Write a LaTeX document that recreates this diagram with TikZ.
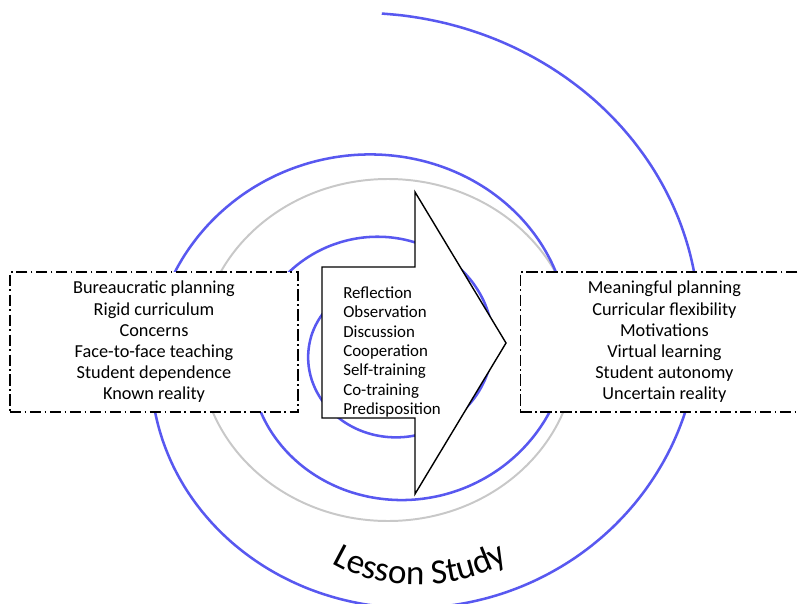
\documentclass[tikz,border=0pt]{standalone}
\usepackage{fontspec}
\setmainfont{Carlito}
\usepackage{tikz}
\usetikzlibrary{positioning}
\usetikzlibrary{decorations.text}
\definecolor{spiralblue}{RGB}{88,88,240}
\definecolor{spiralgray}{RGB}{200,200,200}
\tikzset{spiral/.style={draw=spiralblue,line width=1.8pt},shadeline/.style={draw=spiralgray,line width=1.4pt},statebox/.style={draw,fill=white,line width=0.9pt,dash pattern=on 8pt off 2.5pt on 1.2pt off 2.5pt,minimum width=7.2cm,minimum height=3.5cm,align=center,font=\fontsize{13}{15.1}\selectfont}}

\begin{document}
\begin{tikzpicture}[x=0.025cm,y=-0.025cm]
\useasboundingbox (0,0) rectangle (799,603);

% the spiral, drawn first so the boxes sit on it
\draw[shadeline] (388,350) ellipse [x radius=188, y radius=171];
\draw[spiral] plot[domain=-1:1040, samples=320, smooth] ({388+355*exp(-0.0015064*\x)*sin(\x)}, {350.6-336.6*exp(-0.0015064*\x)*cos(\x)});

\node (before) [statebox] at (154,342) {Bureaucratic planning\\Rigid curriculum\\Concerns\\Face-to-face teaching\\Student dependence\\Known reality};
\node (after) [statebox, right=5.525cm of before] {Meaningful planning\\Curricular flexibility\\Motivations\\Virtual learning\\Student autonomy\\Uncertain reality};

% big arrow in the middle
\draw[fill=white, line width=1pt] (322,267) -- (415,267) -- (415,192) -- (506,343) -- (415,494) -- (415,418) -- (322,418) -- cycle;
\node (steps) [anchor=west, align=left, inner sep=0pt, font=\fontsize{12}{13.8}\selectfont] at (343,352) {Reflection\\Observation\\Discussion\\Cooperation\\Self-training\\Co-training\\Predisposition};

% title along the bottom turn
%\path[decorate, decoration={text along path, text align=center, text={|\color{black!35}\fontsize{24}{24}\selectfont|Lesson Study}}] (334,564) .. controls (382,594) and (462,594) .. (510,562);
\path[decorate, decoration={text along path, text align=center, text={|\fontsize{25}{25}\selectfont|Lesson Study}}] (330,562) .. controls (380,593) and (460,593) .. (510,560);
\end{tikzpicture}
\end{document}
